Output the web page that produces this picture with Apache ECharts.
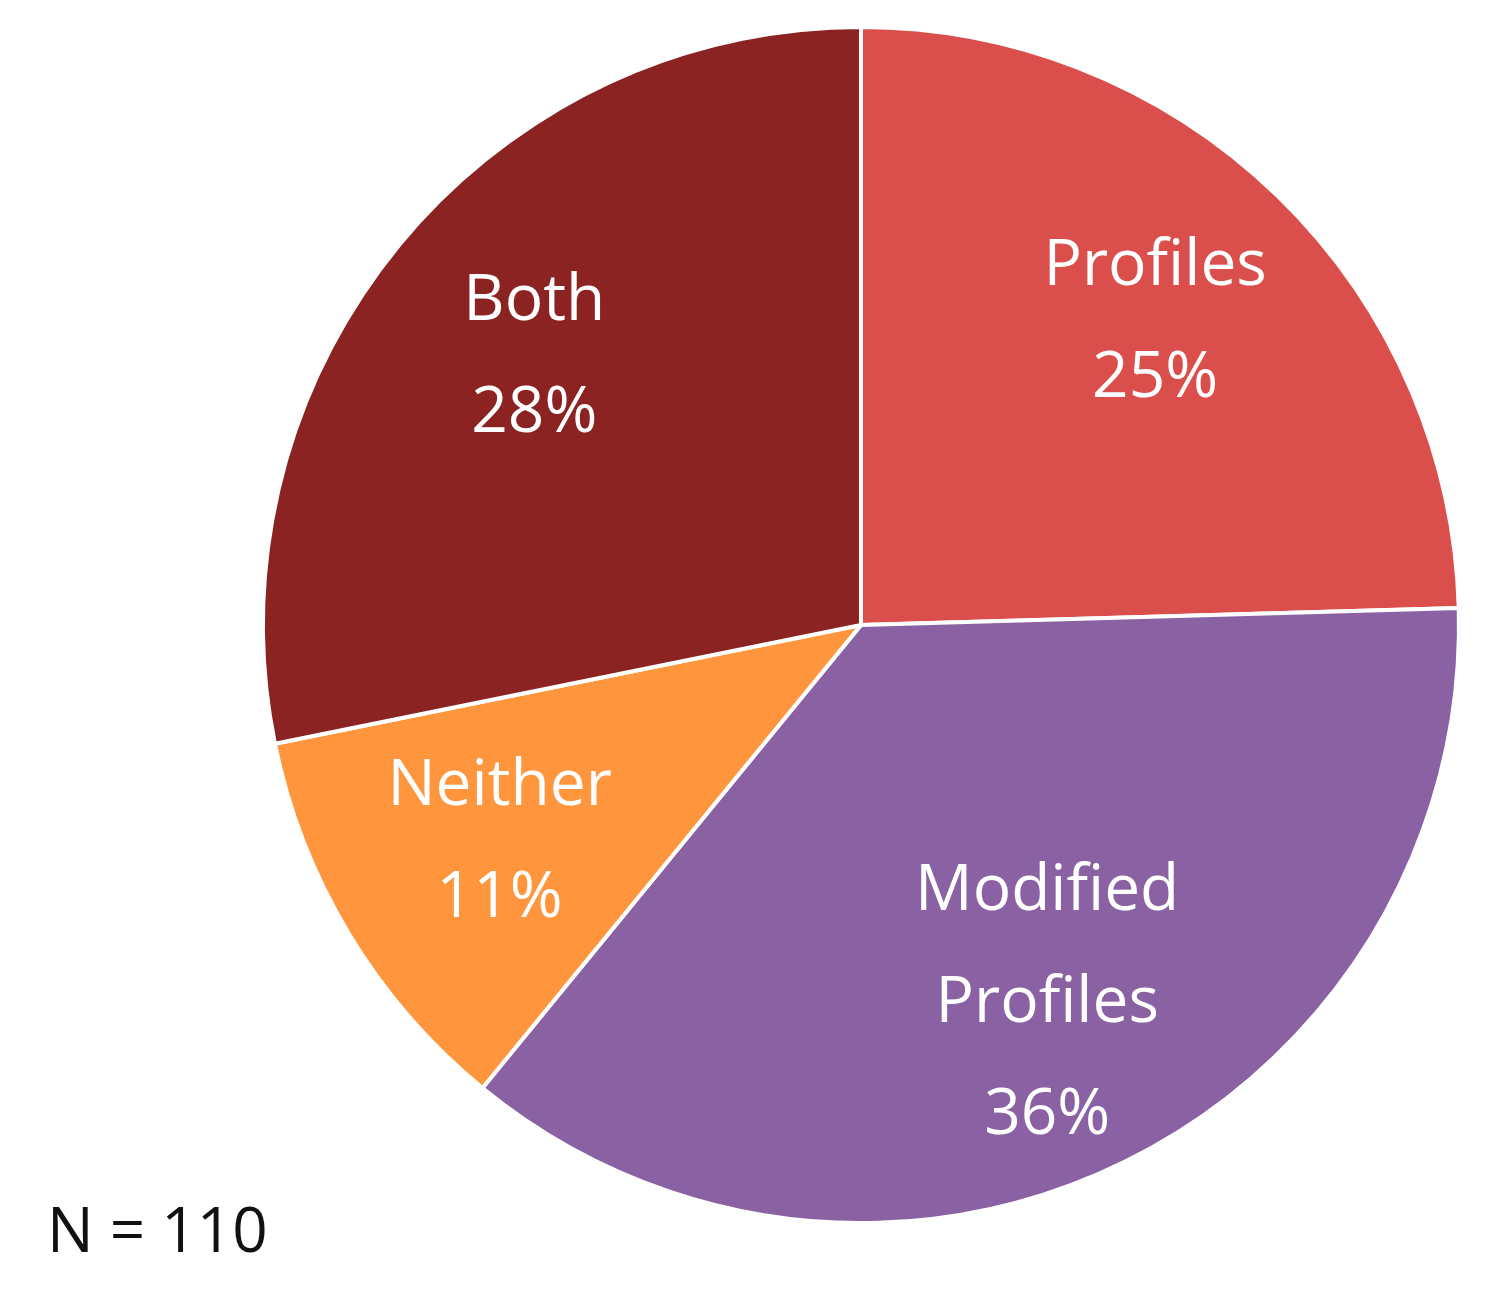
<!DOCTYPE html>
<html>
<head>
<meta charset="utf-8">
<script src="https://cdn.jsdelivr.net/npm/echarts@6/dist/echarts.min.js"></script>
<style>html,body{margin:0;background:#fff}#chart{width:1495px;height:1310px}</style>
</head>
<body>
<div id="chart"></div>
<script>
var categories = ['Profiles', 'Modified\nProfiles', 'Neither', 'Both'];
var counts = [27, 40, 12, 31];
var colors = ['#DA4E4C', '#8A62A3', '#FF963D', '#8A2322'];

var myChart = echarts.init(document.getElementById('chart'), null, { renderer: 'canvas' });

var data = categories.map(function (name, i) {
  return { name: name, value: counts[i], itemStyle: { color: colors[i] } };
});

var option = {
  animation: false,
  title: {
    text: 'N = 110',
    left: 42,
    top: 1198,
    textStyle: { fontFamily: 'Open Sans', fontWeight: 'normal', fontSize: 62, color: '#111' }
  },
  series: [
    {
      type: 'pie',
      center: [861, 625],
      radius: [0, 598],
      startAngle: 90,
      clockwise: true,
      percentPrecision: 0,
      silent: true,
      label: { show: false },
      labelLine: { show: false },
      itemStyle: { borderColor: '#fff', borderWidth: 4 },
      data: data
    },
    {
      type: 'pie',
      center: [861, 625],
      radius: [240, 598],
      startAngle: 90,
      clockwise: true,
      percentPrecision: 0,
      silent: true,
      itemStyle: { color: 'rgba(0,0,0,0)' },
      label: {
        show: true,
        position: 'inside',
        formatter: '{b}\n{d}%',
        color: '#fff',
        fontFamily: 'Open Sans',
        fontSize: 64,
        lineHeight: 112
      },
      labelLine: { show: false },
      data: categories.map(function (name, i) { return { name: name, value: counts[i] }; })
    }
  ]
};

myChart.setOption(option);
window.addEventListener('resize', myChart.resize);
</script>
</body>
</html>
